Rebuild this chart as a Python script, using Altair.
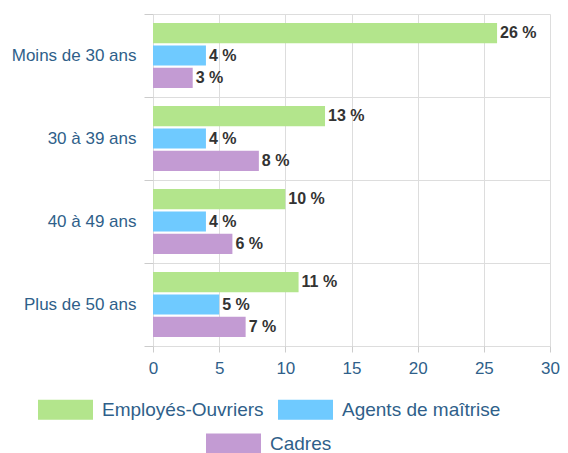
import altair as alt
import pandas as pd

ages = ["Moins de 30 ans", "30 à 39 ans", "40 à 49 ans", "Plus de 50 ans"]
series = ["Employés-Ouvriers", "Agents de maîtrise", "Cadres"]
employes = [26, 13, 10, 11]
agents = [4, 4, 4, 5]
cadres = [3, 8, 6, 7]
colors = ["#b3e58c", "#6fcaff", "#c39bd3"]
x_ticks = [0, 5, 10, 15, 20, 25, 30]

rows = []
for i, a in enumerate(ages):
    for s, vals in zip(series, [employes, agents, cadres]):
        rows.append({"Age": a, "Series": s, "Value": vals[i], "Label": f"{vals[i]} %"})
df = pd.DataFrame(rows)

axis_col = "#2f5f8a"
font = "Liberation Sans"
swatch = "M-1,-0.36H1V0.36H-1Z"

base = alt.Chart(df)

y_enc = alt.Y("Age:N", sort=ages, title=None,
              scale=alt.Scale(paddingInner=0, paddingOuter=0),
              axis=alt.Axis(tickBand="extent", grid=True, gridColor="#dddddd",
                            tickColor="#cccccc", tickSize=9, domain=False,
                            labelColor=axis_col, labelFontSize=17, labelFont=font,
                            labelPadding=8))
x_enc = alt.X("Value:Q", title=None,
              scale=alt.Scale(domain=[0, 30], nice=False),
              axis=alt.Axis(values=x_ticks, grid=True, gridColor="#dddddd",
                            tickColor="#cccccc", tickSize=6, domain=False,
                            labelFlush=False,
                            labelColor=axis_col, labelFontSize=17, labelFont=font,
                            labelPadding=8))
yoff = alt.YOffset("Series:N", sort=series,
                   scale=alt.Scale(domain=series, paddingInner=0.1, paddingOuter=0.4))

legend_common = dict(orient="none", direction="horizontal", title=None,
                     symbolType=swatch, symbolSize=3025, symbolStrokeWidth=0,
                     symbolOpacity=1, labelFontSize=19, labelFont=font,
                     labelColor=axis_col, labelOffset=9, columnPadding=14,
                     labelLimit=0)

bars1 = base.transform_filter(
    alt.FieldOneOfPredicate(field="Series", oneOf=series[:2])
).mark_bar(opacity=1).encode(
    x=x_enc, y=y_enc, yOffset=yoff,
    color=alt.Color("Series:N", sort=series[:2],
                    scale=alt.Scale(domain=series[:2], range=colors[:2]),
                    legend=alt.Legend(legendX=-115, legendY=368, **legend_common)),
)

bars2 = base.transform_filter(
    alt.FieldOneOfPredicate(field="Series", oneOf=series[2:])
).mark_bar(opacity=1).encode(
    x=x_enc, y=y_enc, yOffset=yoff,
    color=alt.Color("Series:N", title=None,
                    scale=alt.Scale(domain=series[2:], range=colors[2:]),
                    legend=alt.Legend(legendX=53, legendY=402, **legend_common)),
)

labels = base.mark_text(align="left", baseline="middle", dx=3, fontSize=16,
                        fontWeight="bold", font=font, color="#333333").encode(
    x=alt.X("Value:Q"), y=alt.Y("Age:N", sort=ages), yOffset=alt.YOffset("Series:N", sort=series),
    text="Label:N",
)

chart = alt.layer(bars1, bars2, labels).resolve_scale(color="independent").properties(
    width=397, height=332,
    autosize=alt.AutoSizeParams(type="none"),
    padding={"left": 145, "top": 6, "right": 10, "bottom": 130},
).configure_view(stroke=None)

chart.save("out.html", embed_options={"renderer": "svg", "actions": False})
